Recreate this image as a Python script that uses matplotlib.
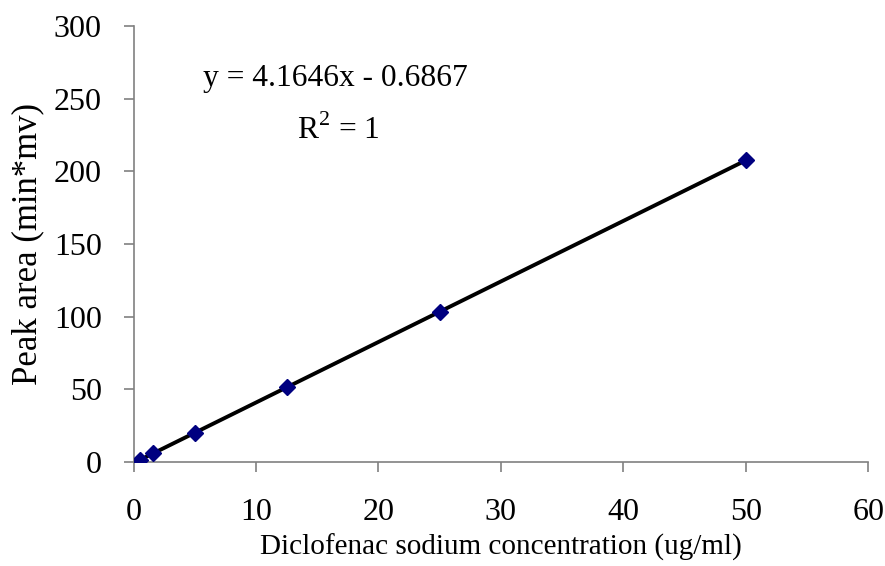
import numpy as np
import matplotlib
matplotlib.use('Agg')
import matplotlib.pyplot as plt

# calibration data
conc = [0.5, 1.56, 5.0, 12.5, 25.0, 50.0]       # ug/ml
area = [1.4, 6.0, 20.1, 51.4, 103.4, 207.5]     # min*mv
slope = 4.1646
intercept = -0.6867

plt.rcParams['font.family'] = ['Liberation Serif', 'DejaVu Serif']
plt.rcParams['mathtext.fontset'] = 'custom'
plt.rcParams['mathtext.rm'] = 'Liberation Serif'

fig = plt.figure(figsize=(8.85, 5.66), dpi=100)
ax = fig.add_axes([0.151, 0.1837, 0.830, 0.7703])

# trend line over the data range
xl = np.array([min(conc), max(conc)])
ax.plot(xl, slope * xl + intercept, color='black', lw=2.8, zorder=2)
ax.plot(conc, area, ls='none', marker='D', ms=8.5, color='#000080', zorder=3)

ax.set_xlim(0, 60)
ax.set_ylim(0, 300)
ax.set_xticks(range(0, 61, 10))
ax.set_yticks(range(0, 301, 50))
for s in ['top', 'right']:
    ax.spines[s].set_visible(False)
for s in ['left', 'bottom']:
    ax.spines[s].set_color('#808080')
    ax.spines[s].set_linewidth(1.2)
ax.tick_params(direction='out', length=7, width=1.2, color='#808080',
               labelsize=23)
ax.tick_params(axis='x', pad=19)
ax.tick_params(axis='y', pad=16)

ax.set_xlabel('Diclofenac sodium concentration (ug/ml)', fontsize=21, labelpad=5)
ax.set_ylabel('Peak area (min*mv)', fontsize=25, labelpad=7)

ax.text(16.5, 264, 'y = 4.1646x - 0.6867', fontsize=22.7, ha='center', va='center')
ax.text(16.7, 228, r'R$^{\mathrm{2}}$ = 1', fontsize=22.7, ha='center', va='center')

fig.savefig('out.png', dpi=100)
